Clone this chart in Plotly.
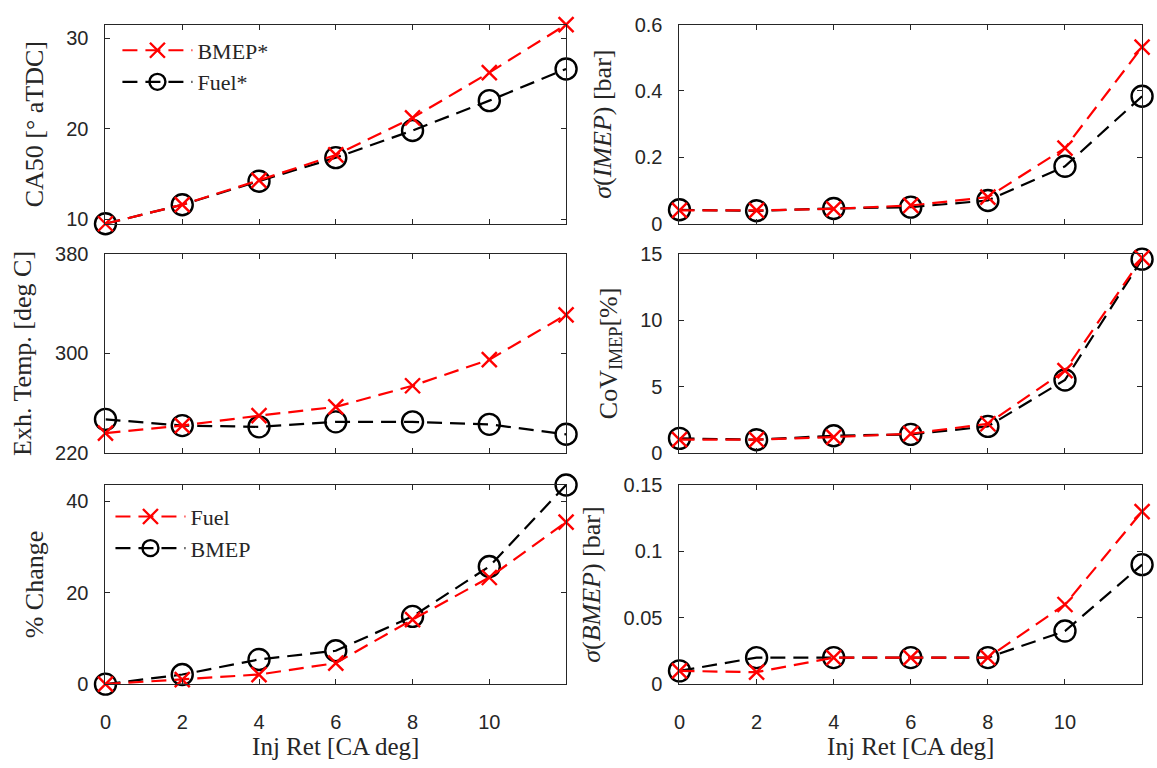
import plotly.graph_objects as go

# Injection retard sweep [CA deg]
inj_ret = [0, 2, 4, 6, 8, 10, 12]
x_tick_vals = [0, 2, 4, 6, 8, 10]

# CA50 [deg aTDC]
ca50_bmep = [9.5, 11.6, 14.3, 17.1, 21.2, 26.2, 31.5]
ca50_fuel = [9.5, 11.6, 14.2, 16.8, 19.8, 23.1, 26.6]

# sigma(IMEP) [bar]
sig_imep_bmep = [0.04, 0.04, 0.045, 0.055, 0.08, 0.228, 0.532]
sig_imep_fuel = [0.042, 0.039, 0.046, 0.05, 0.07, 0.173, 0.384]

# Exhaust temperature [deg C]
exh_bmep = [236, 242, 250, 257, 274, 295, 331]
exh_fuel = [247, 242, 241, 245, 245, 243, 235]

# CoV of IMEP [%]
cov_bmep = [1.0, 1.0, 1.2, 1.45, 2.2, 6.2, 14.7]
cov_fuel = [1.1, 1.0, 1.3, 1.4, 2.0, 5.5, 14.6]

# % change
pct_fuel = [0, 1.0, 2.1, 4.6, 14.1, 23.3, 35.4]
pct_bmep = [0, 2.1, 5.4, 7.3, 14.8, 25.7, 43.5]

# sigma(BMEP) [bar]
sig_bmep_bmep = [0.01, 0.009, 0.02, 0.02, 0.02, 0.06, 0.13]
sig_bmep_fuel = [0.01, 0.02, 0.02, 0.02, 0.02, 0.04, 0.09]

W, H = 1157, 768
RED = "#ff0000"
BLACK = "#000000"
AXC = "#262626"
SERIF = "Liberation Serif"
SANS = "Liberation Sans"
DASH = "15px,8px"


def px_x(p):
    return p / W


def px_y(p):
    return 1 - p / H


col_dom = [[px_x(100), px_x(563)], [px_x(677), px_x(1142)]]
row_dom = [[px_y(219), px_y(14)], [px_y(455), px_y(250)], [px_y(693), px_y(488)]]

fig = go.Figure()


def red_trace(y, ax, name=None, legend=None, show=False):
    return go.Scatter(
        x=inj_ret, y=y, xaxis="x" + ax, yaxis="y" + ax, mode="lines+markers",
        line=dict(color=RED, width=2.2, dash=DASH),
        marker=dict(symbol="x-thin-open", size=15, color=RED,
                    line=dict(color=RED, width=2.4)),
        name=name, showlegend=show, legend=legend, legendrank=1,
        cliponaxis=False,
    )


def black_trace(y, ax, name=None, legend=None, show=False):
    return go.Scatter(
        x=inj_ret, y=y, xaxis="x" + ax, yaxis="y" + ax, mode="lines+markers",
        line=dict(color=BLACK, width=2.2, dash=DASH),
        marker=dict(symbol="circle-open", size=21, color=BLACK,
                    line=dict(color=BLACK, width=2.4)),
        name=name, showlegend=show, legend=legend, legendrank=2,
        cliponaxis=False,
    )


panels = [
    ("1", ca50_fuel, ca50_bmep, ("Fuel*", "BMEP*"), "legend"),
    ("2", sig_imep_fuel, sig_imep_bmep, None, None),
    ("3", exh_fuel, exh_bmep, None, None),
    ("4", cov_fuel, cov_bmep, None, None),
    ("5", pct_bmep, pct_fuel, ("BMEP", "Fuel"), "legend2"),
    ("6", sig_bmep_fuel, sig_bmep_bmep, None, None),
]

for ax, yb, yr, names, leg in panels:
    if names:
        fig.add_trace(black_trace(yb, ax, names[0], leg, True))
        fig.add_trace(red_trace(yr, ax, names[1], leg, True))
    else:
        fig.add_trace(black_trace(yb, ax))
        fig.add_trace(red_trace(yr, ax))

y_specs = [
    ("CA50 [° aTDC]", [9.5, 31.5], [10, 20, 30], ["10", "20", "30"]),
    ("<i>σ</i>(<i>IMEP</i>) [bar]", [0, 0.6], [0, 0.2, 0.4, 0.6], ["0", "0.2", "0.4", "0.6"]),
    ("Exh. Temp. [deg C]", [220, 380], [220, 300, 380], ["220", "300", "380"]),
    ("CoV<sub>IMEP</sub>[%]", [0, 15], [0, 5, 10, 15], ["0", "5", "10", "15"]),
    ("% Change", [0, 43.5], [0, 20, 40], ["0", "20", "40"]),
    ("<i>σ</i>(<i>BMEP</i>) [bar]", [0, 0.15], [0, 0.05, 0.1, 0.15], ["0", "0.05", "0.1", "0.15"]),
]

axis_common = dict(
    showline=True, linecolor=AXC, linewidth=1, mirror="ticks",
    ticks="inside", ticklen=5, tickwidth=1, tickcolor=AXC,
    showgrid=False, zeroline=False,
    tickfont=dict(family=SANS, size=20, color=AXC),
)

layout = dict(
    width=W, height=H, margin=dict(l=0, r=0, t=0, b=0),
    paper_bgcolor="white", plot_bgcolor="white",
)

for i in range(6):
    r, c = divmod(i, 2)
    k = "" if i == 0 else str(i + 1)
    title, yr, tv, tt = y_specs[i]
    xa = dict(axis_common)
    xa.update(domain=col_dom[c], range=[0, 12], tickvals=x_tick_vals,
              ticktext=[str(v) for v in x_tick_vals],
              showticklabels=(r == 2), anchor="y" + k, ticklabelstandoff=20)
    if r == 2:
        xa["title"] = dict(text="Inj Ret [CA deg]", standoff=5,
                           font=dict(family=SERIF, size=25, color=AXC))
    ya = dict(axis_common)
    ya.update(domain=row_dom[r], range=yr, tickvals=tv, ticktext=tt,
              anchor="x" + k, ticklabelstandoff=12,
              title=dict(text=title, standoff=15,
                         font=dict(family=SERIF, size=26, color=AXC)))
    layout["xaxis" + k] = xa
    layout["yaxis" + k] = ya

legend_common = dict(
    bgcolor="rgba(0,0,0,0)", borderwidth=0, itemwidth=70,
    font=dict(family=SERIF, size=22, color=AXC),
    xanchor="left", yanchor="top", tracegroupgap=0, itemsizing="trace",
)
layout["legend"] = dict(legend_common, x=px_x(112), y=px_y(19))
layout["legend2"] = dict(legend_common, x=px_x(105), y=px_y(499))

fig.update_layout(**layout)
fig.write_html("out.html")
